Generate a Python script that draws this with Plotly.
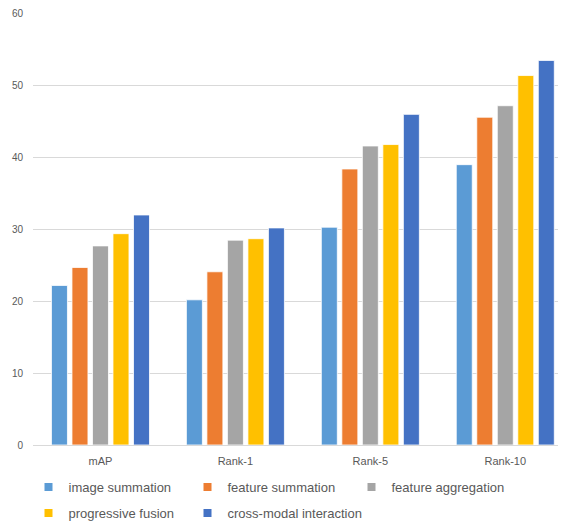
import plotly.graph_objects as go

categories = ["mAP", "Rank-1", "Rank-5", "Rank-10"]
series_names = ["image summation", "feature summation", "feature aggregation",
                "progressive fusion", "cross-modal interaction"]
image_summation = [22.2, 20.2, 30.3, 39.0]
feature_summation = [24.7, 24.1, 38.4, 45.6]
feature_aggregation = [27.7, 28.5, 41.6, 47.2]
progressive_fusion = [29.4, 28.7, 41.8, 51.4]
cross_modal_interaction = [32.0, 30.2, 46.0, 53.5]
y_ticks = [0, 10, 20, 30, 40, 50, 60]

values = [image_summation, feature_summation, feature_aggregation,
          progressive_fusion, cross_modal_interaction]
colors = ["#5B9BD5", "#ED7D31", "#A5A5A5", "#FFC000", "#4472C4"]

# page has an 8px body margin
W, H = 558, 517
T, B, L = 5, 80, 25
plot_w = W - L
plot_h = H - T - B
bottom = H - B
# legend symbol centres / row centres (page px)
legend_pos = [(46, 487), (205, 487), (369, 487), (46, 513), (205, 513)]
legend_keys = ["legend", "legend2", "legend3", "legend4", "legend5"]

fig = go.Figure()
for name, vals, c in zip(series_names, values, colors):
    fig.add_trace(go.Bar(
        x=categories, y=vals, name=name, showlegend=False,
        marker=dict(color=c, line=dict(color="white", width=0.8)),
    ))
for name, c, lg in zip(series_names, colors, legend_keys):
    fig.add_trace(go.Scatter(
        x=[None], y=[None], mode="markers", name=name, legend=lg,
        marker=dict(symbol="square", size=8, color=c),
    ))

font = "Liberation Sans"
legends = {}
for key, (px, py) in zip(legend_keys, legend_pos):
    fx = px - 17.5 - 8
    fy = py - 8
    legends[key] = dict(orientation="h", xanchor="left", yanchor="middle",
                        x=(fx - L) / plot_w, y=-(fy - bottom) / plot_h,
                        font=dict(size=13, color="#595959"), itemwidth=30,
                        bgcolor="rgba(0,0,0,0)")

fig.update_layout(
    width=W, height=H,
    margin=dict(l=L, r=0, t=T, b=B, autoexpand=False),
    paper_bgcolor="white", plot_bgcolor="white",
    barmode="group", bargap=0.24, bargroupgap=0.22,
    font=dict(family=font, color="#595959"),
    xaxis=dict(range=[-0.5, 3.45], showgrid=False, showline=False,
               ticks="", tickfont=dict(size=11, color="#595959"),
               ticklabelstandoff=8, automargin=False),
    yaxis=dict(range=[0, 60.1], tickvals=y_ticks, showgrid=True,
               gridcolor="#D9D9D9", gridwidth=1, zeroline=True,
               zerolinecolor="#D9D9D9", zerolinewidth=1,
               tickfont=dict(size=10, color="#595959"), ticks="",
               ticklabelstandoff=9, ticklabeloverflow="allow",
               automargin=False),
    **legends,
)

fig.write_html("out.html")
